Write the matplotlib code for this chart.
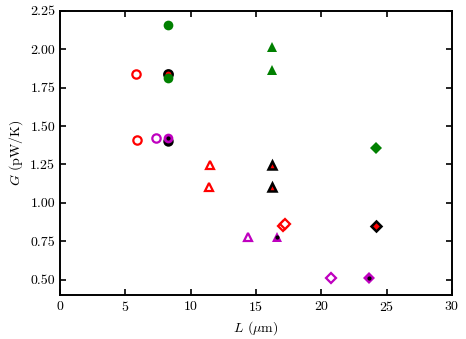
import matplotlib
matplotlib.use('Agg')
import matplotlib.pyplot as plt
from matplotlib.ticker import FormatStrFormatter, MultipleLocator

# LaTeX-like look
plt.rcParams['font.family'] = 'serif'
plt.rcParams['font.serif'] = ['cmr10', 'DejaVu Serif']
plt.rcParams['mathtext.fontset'] = 'cm'
plt.rcParams['axes.formatter.use_mathtext'] = True

# data (L in um, G in pW/K)
# circles
circ_red_open_L = [5.82, 5.9]
circ_red_open_G = [1.84, 1.41]
circ_mag_open_L = [7.35]
circ_mag_open_G = [1.42]
circ_green_L = [8.25, 8.25]
circ_green_G = [2.16, 1.81]
circ_redblk_L = [8.25]
circ_redblk_G = [1.84]
circ_blk_L = [8.25]
circ_blk_G = [1.405]
circ_mag_dot_L = [8.25]
circ_mag_dot_G = [1.42]

# triangles
tri_red_open_L = [11.5, 11.4]
tri_red_open_G = [1.245, 1.105]
tri_redblk_L = [16.2, 16.2]
tri_redblk_G = [1.245, 1.105]
tri_green_L = [16.2, 16.2]
tri_green_G = [2.015, 1.865]
tri_mag_open_L = [14.4]
tri_mag_open_G = [0.78]
tri_mag_dot_L = [16.6]
tri_mag_dot_G = [0.78]

# diamonds
dia_red_open_L = [17.05, 17.25]
dia_red_open_G = [0.846, 0.865]
dia_mag_open_L = [20.7]
dia_mag_open_G = [0.51]
dia_mag_dot_L = [23.65]
dia_mag_dot_G = [0.51]
dia_green_L = [24.15]
dia_green_G = [1.36]
dia_redblk_L = [24.15]
dia_redblk_G = [0.852]

fig = plt.figure(figsize=(4.66, 3.39), dpi=100)
ax = fig.add_axes([0.129, 0.13, 0.841, 0.838])

mag = 'm'
ms = 6.5

def open_m(L, G, mk, c, size=ms):
    ax.plot(L, G, mk, ls='none', mfc='white', mec=c, mew=1.6, ms=size)

def fill_m(L, G, mk, c, ec=None, size=ms, ew=0.0):
    ax.plot(L, G, mk, ls='none', mfc=c, mec=ec if ec else c, mew=ew, ms=size)

def dot_m(L, G):
    ax.plot(L, G, '.', ls='none', color='k', ms=4)

# circles
open_m(circ_red_open_L, circ_red_open_G, 'o', 'r', 6)
open_m(circ_mag_open_L, circ_mag_open_G, 'o', mag, 6)
fill_m(circ_redblk_L, circ_redblk_G, 'o', 'r', 'k', 6, 1.8)
fill_m(circ_green_L, circ_green_G, 'o', 'g', size=7)
fill_m(circ_blk_L, circ_blk_G, 'o', 'k', size=7.5)
fill_m(circ_mag_dot_L, circ_mag_dot_G, 'o', mag, size=7)
dot_m(circ_mag_dot_L, circ_mag_dot_G)

# triangles
open_m(tri_red_open_L, tri_red_open_G, '^', 'r', 6)
fill_m(tri_redblk_L, tri_redblk_G, '^', 'r', 'k', 6, 1.8)
fill_m(tri_green_L, tri_green_G, '^', 'g', size=7)
open_m(tri_mag_open_L, tri_mag_open_G, '^', mag, 6)
fill_m(tri_mag_dot_L, tri_mag_dot_G, '^', mag, size=7)
dot_m(tri_mag_dot_L, tri_mag_dot_G)

# diamonds
open_m(dia_red_open_L, dia_red_open_G, 'D', 'r', 4.6)
open_m(dia_mag_open_L, dia_mag_open_G, 'D', mag, 5.5)
fill_m(dia_mag_dot_L, dia_mag_dot_G, 'D', mag, size=6.5)
dot_m(dia_mag_dot_L, dia_mag_dot_G)
fill_m(dia_green_L, dia_green_G, 'D', 'g', size=6.5)
fill_m(dia_redblk_L, dia_redblk_G, 'D', 'r', 'k', 5.5, 1.8)

ax.set_xlim(0, 30)
ax.set_ylim(0.4, 2.25)
ax.xaxis.set_major_locator(MultipleLocator(5))
ax.yaxis.set_major_locator(MultipleLocator(0.25))
ax.yaxis.set_major_formatter(FormatStrFormatter('%.2f'))
ax.tick_params(direction='in', top=True, right=True, length=4, width=1.2, labelsize=10)
for s in ax.spines.values():
    s.set_linewidth(1.4)

ax.set_xlabel(r'$L$ ($\mu$m)', fontsize=10)
ax.set_ylabel(r'$G$ (pW/K)', fontsize=10)

plt.savefig('out.png', dpi=100)
plt.close()
